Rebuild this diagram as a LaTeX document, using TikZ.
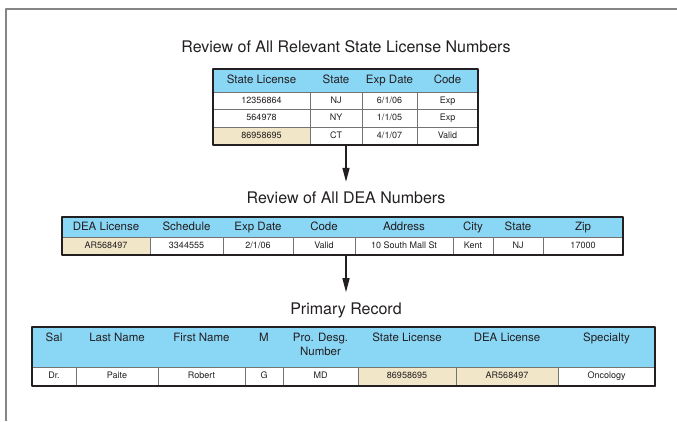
\documentclass[tikz,border=0pt]{standalone}
\usepackage{fontspec}
\setmainfont{TeX Gyre Heros}
\usetikzlibrary{arrows.meta}
\definecolor{hdblue}{RGB}{138,214,245}
\definecolor{hilite}{RGB}{242,230,200}
\definecolor{ink}{RGB}{35,31,32}
\tikzset{
 hd/.style={font=\fontsize{11.5}{14}\selectfont,text=ink,inner sep=0pt,align=center},
 hdfix/.style={hd,text height=8.4pt,text depth=2.4pt},
 dat/.style={font=\fontsize{9}{10}\selectfont,text=ink,inner sep=0pt,text height=6.6pt,text depth=1.9pt},
 ttl/.style={font=\fontsize{16}{18}\selectfont,text=ink,inner sep=0pt},
 cell/.style={draw=black!55,line width=0.8pt},
 tbl/.style={draw=ink,line width=1.8pt,inner sep=0pt},
 flow/.style={->,draw=ink,line width=1.4pt,shorten >=10pt}
}
\begin{document}
\begin{tikzpicture}[x=1pt,y=-1pt,line join=round,>={Triangle[length=14pt,width=7pt]}]
 \useasboundingbox (0,0) rectangle (677,421);
 \draw[black!48,line width=2.5pt](677,9)--(6,9)--(6,421);
 % titles
 \node[ttl] (stateTtl) at (346,47) {Review of All Relevant State License Numbers};
 \node[ttl] (deaTtl) at (346,198) {Review of All DEA Numbers};
 \node[ttl] (primTtl) at (346,310) {Primary Record};
 % state license table
 \fill[hilite](213,127.3) rectangle (310,145);
 \foreach \a/\b/\h/\p/\q/\r [count=\i] in {213/310/State License/12356864/564978/86958695,310/362/State/NJ/NY/CT,362/417/Exp Date/{6/1/06}/{1/1/05}/{4/1/07},417/478/Code/Exp/Exp/Valid}{
  \fill[hdblue](\a,69) rectangle (\b,92);
  \node[hdfix] (st\i) at ({(\a+\b)/2},80.5) {\h};
  \draw[cell](\a,92) rectangle (\b,109.7) (\a,109.7) rectangle (\b,127.3) (\a,127.3) rectangle (\b,145);
  \node[dat] (st\i-a) at ({(\a+\b)/2},100.8) {\p};
  \node[dat] (st\i-b) at ({(\a+\b)/2},118.5) {\q};
  \node[dat] (st\i-c) at ({(\a+\b)/2},136.2) {\r};
 }
 \node[tbl,minimum width=265pt,minimum height=76pt] (stateTbl) at (345.5,107) {};
 % DEA table
 \foreach \a/\b/\h/\p/\c [count=\i] in {62/150/DEA License/AR568497/hilite,150/223/Schedule/3344555/white,223/293/Exp Date/{2/1/06}/white,293/355/Code/Valid/white,355/453/Address/10 South Mall St/white,453/493/City/Kent/white,493/543/State/NJ/white,543/623/Zip/17000/white}{
  \fill[hdblue](\a,217) rectangle (\b,237);
  \node[hdfix] (dea\i) at ({(\a+\b)/2},227) {\h};
  \draw[cell,fill=\c](\a,237) rectangle (\b,255);
  \node[dat] (dea\i-a) at ({(\a+\b)/2},246) {\p};
 }
 \node[tbl,minimum width=561pt,minimum height=38pt] (deaTbl) at (342.5,236) {};
 % primary record
 \foreach \a/\b/\h/\p/\c [count=\i] in {32/76/Sal/Dr./white,76/158/Last Name/Paite/white,158/245/First Name/Robert/white,245/283/M/G/white,283/358/{Pro. Desg.\\Number}/MD/white,358/456/State License/86958695/hilite,456/558/DEA License/AR568497/hilite,558/655/Specialty/Oncology/white}{
  \fill[hdblue](\a,327) rectangle (\b,367);
  \node[hd,anchor=north] (pr\i) at ({(\a+\b)/2},332.5) {\h};
  \draw[cell,fill=\c](\a,367) rectangle (\b,386);
  \node[dat] (pr\i-a) at ({(\a+\b)/2},376.5) {\p};
 }
 \node[tbl,minimum width=623pt,minimum height=59pt] (primTbl) at (343.5,356.5) {};
 % arrows
 \draw[flow](stateTtl.center |- stateTbl.south)--(deaTtl.north);
 \draw[flow](deaTtl.center |- deaTbl.south)--(primTtl.north);
\end{tikzpicture}
\end{document}
